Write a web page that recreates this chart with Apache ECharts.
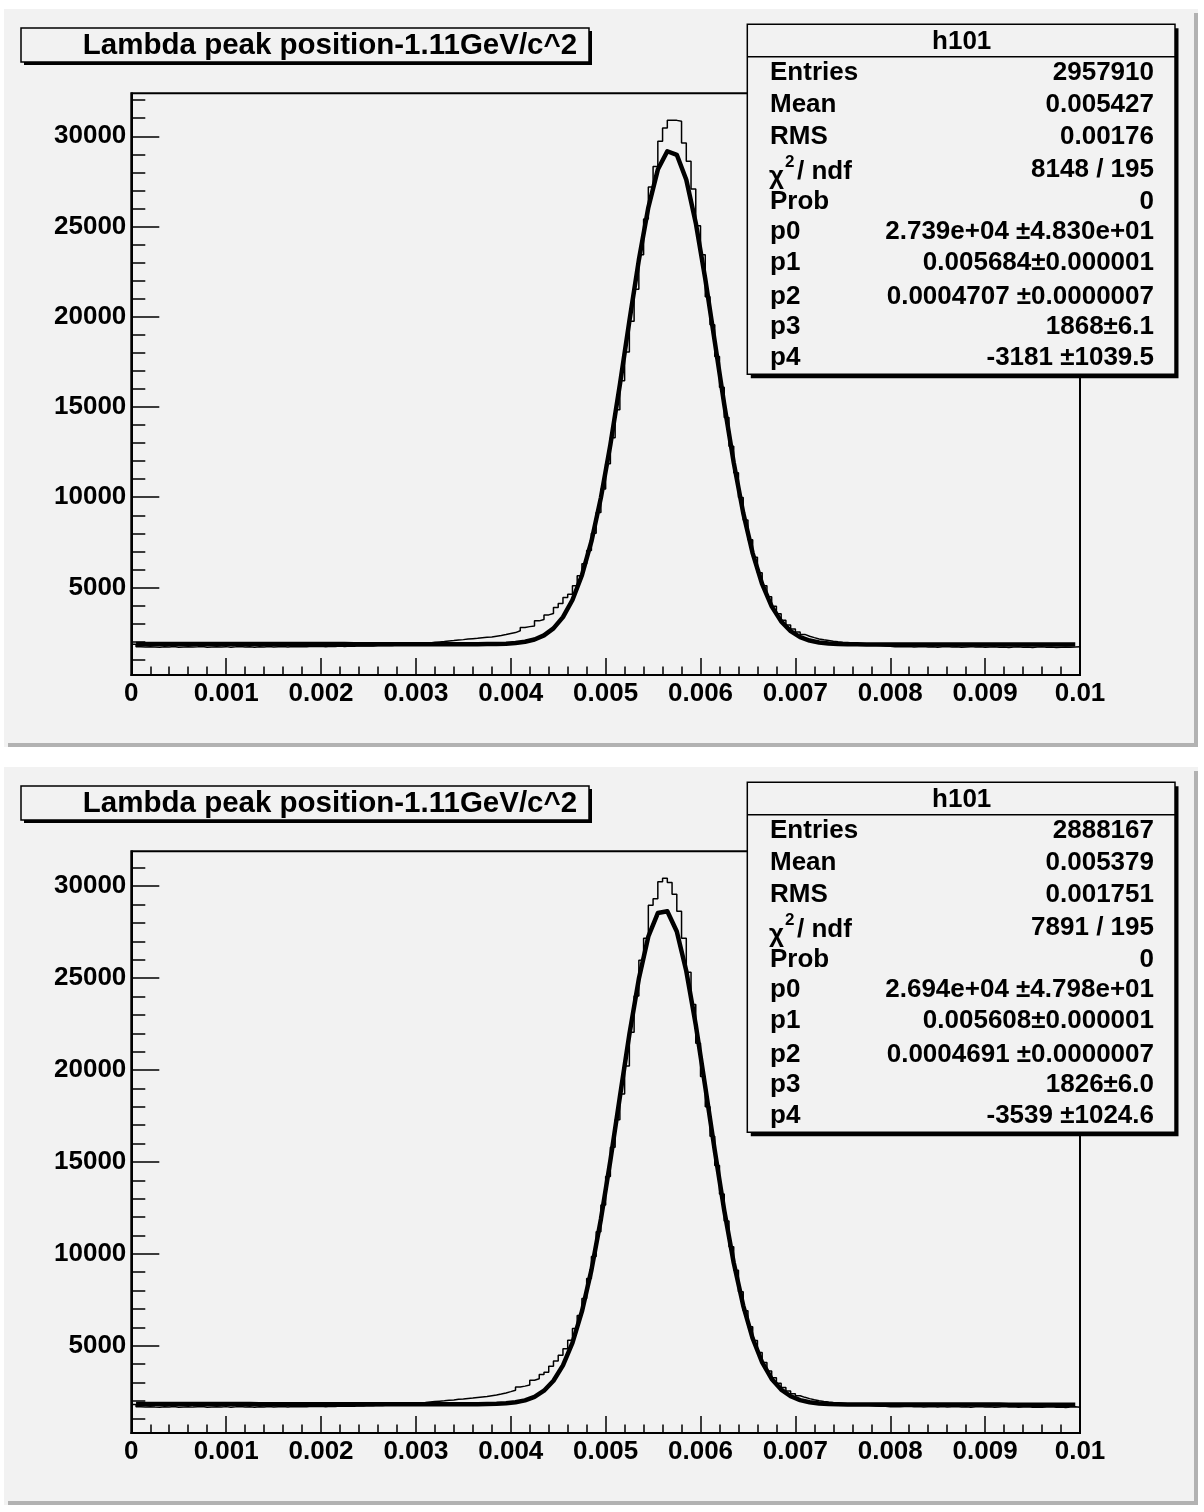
<!DOCTYPE html>
<html>
<head>
<meta charset="utf-8">
<title>Lambda peak position</title>
<script src="https://cdn.jsdelivr.net/npm/echarts@6/dist/echarts.min.js"></script>
<style>
  html, body { margin: 0; padding: 0; background: #ffffff; }
  #chart-container { width: 1204px; height: 1512px; }
</style>
</head>
<body>
<div id="chart-container"></div>
<script>
// histogram: 200 bins on [0, 0.01], fit drawn as 100 points at 0.0001 spacing
const BIN_WIDTH = 0.00005;
const FIT_STEP = 0.0001;
const X_MIN = 0;
const X_MAX = 0.01;
const X_TICK_STEP = 0.001;

const yMajorTicks = [5000, 10000, 15000, 20000, 25000, 30000];
const yMinorTicks = [1000, 2000, 3000, 4000, 6000, 7000, 8000, 9000, 11000, 12000, 13000, 14000,
  16000, 17000, 18000, 19000, 21000, 22000, 23000, 24000, 26000, 27000, 28000, 29000, 31000, 32000];

const titleText = "Lambda peak position-1.11GeV/c^2";
const statsName = "h101";
const statsLabels = ["Entries", "Mean", "RMS", "chi2", "Prob", "p0", "p1", "p2", "p3", "p4"];
const topStatsValues = ["2957910", "0.005427", "0.00176", "8148 / 195", "0",
  "2.739e+04 \u00b14.830e+01", "0.005684\u00b10.000001", "0.0004707 \u00b10.0000007", "1868\u00b16.1", "-3181 \u00b11039.5"];
const bottomStatsValues = ["2888167", "0.005379", "0.001751", "7891 / 195", "0",
  "2.694e+04 \u00b14.798e+01", "0.005608\u00b10.000001", "0.0004691 \u00b10.0000007", "1826\u00b16.0", "-3539 \u00b11024.6"];

const topHist = [
  1850, 1712, 1698, 1721, 1705, 1689, 1716, 1701, 1724, 1692, 1708, 1719, 1695, 1710, 1726, 1688, 1703, 1717, 1699, 1722,
  1694, 1709, 1728, 1697, 1713, 1690, 1718, 1705, 1731, 1700, 1714, 1723, 1707, 1735, 1712, 1729, 1720, 1742, 1724, 1738,
  1716, 1745, 1730, 1751, 1734, 1759, 1741, 1765, 1752, 1775, 1763, 1786, 1778, 1797, 1790, 1812, 1810, 1830, 1838, 1858,
  1880, 1905, 1930, 1960, 1985, 2010, 2040, 2060, 2090, 2110, 2140, 2160, 2180, 2210, 2240, 2260, 2300, 2340, 2390, 2450,
  2500, 2600, 2780, 2830, 2870, 3150, 3230, 3480, 3560, 3890, 4110, 4450, 4620, 5090, 5650, 6310,
  7050, 8000, 9150, 10450, 11850, 13300, 14850, 16450, 18050, 19750, 21520, 23430, 25410, 27190, 28330, 29720, 30460,
  30890, 30880, 30830, 29630, 28610, 27080, 25040, 23430, 21110,
  19550, 17800, 16100, 14420, 12830, 11350, 9980, 8740, 7640, 6680, 5820, 5100, 4480, 3960, 3540, 3190, 2920, 2700,
  2530, 2400, 2300, 2220, 2150, 2100, 2060, 2020, 1990, 1965, 1945, 1920, 1895, 1870, 1850, 1830,
  1800, 1780, 1762, 1745, 1721, 1728, 1712, 1724, 1701, 1716, 1730, 1705, 1719, 1694, 1711, 1726, 1699, 1714, 1688, 1707,
  1722, 1696, 1710, 1683, 1703, 1719, 1692, 1706, 1680, 1698, 1715, 1689, 1704, 1677, 1695, 1711, 1686, 1701, 1674, 1693,
  1708, 1684, 1697, 1713
];

const topFit = [
  1868, 1867, 1867, 1867, 1867, 1866, 1866, 1866, 1865, 1865, 1865, 1864, 1864, 1864, 1863, 1863, 1863, 1862, 1862, 1862,
  1861, 1861, 1861, 1860, 1860, 1860, 1860, 1859, 1859, 1859, 1858, 1858, 1858, 1857, 1857,
  1858, 1859, 1862, 1870, 1886, 1921, 1990, 2119, 2348, 2735, 3357, 4306, 5679, 7550, 9979, 12909, 16235, 19759, 23144,
  26056, 28153, 29169, 28972, 27587, 25196, 22093, 18627, 15140, 11914, 9133, 6889, 5180, 3952, 3120, 2582, 2251, 2059,
  1953, 1897, 1868, 1855, 1848, 1845,
  1843, 1843, 1842, 1842, 1842, 1841, 1841, 1841, 1840, 1840, 1840, 1839, 1839, 1839, 1839, 1838, 1838, 1838, 1837, 1837,
  1837, 1836
];

const bottomHist = [
  1800, 1673, 1660, 1684, 1667, 1653, 1679, 1664, 1686, 1656, 1671, 1682, 1658, 1674, 1689, 1651, 1666, 1680, 1662, 1685,
  1657, 1672, 1691, 1660, 1676, 1654, 1682, 1668, 1694, 1663, 1678, 1687, 1670, 1698, 1675, 1692, 1683, 1705, 1687, 1701,
  1679, 1708, 1695, 1716, 1701, 1725, 1711, 1734, 1722, 1745, 1733, 1757, 1748, 1770, 1764, 1785,
  1810, 1830, 1850, 1870, 1890, 1910, 1935, 1960, 1980, 2000, 2030, 2050, 2080, 2100, 2130, 2150, 2180, 2210, 2240, 2280,
  2320, 2370, 2430, 2500, 2580, 2750, 2800, 2860, 3120, 3200, 3430, 3560, 3880, 4170, 4480, 4840, 5300, 5930, 6640, 7570,
  8650, 9850, 11200, 12650, 14200, 15800, 17300, 18700,
  20220, 22060, 24030, 25970, 27170, 28970, 29320, 30240, 30440, 30200, 29560, 28640, 27170, 25320, 23570, 21450,
  19650, 18000, 16400, 14800, 13250, 11780, 10380, 9100, 7930, 6900, 6030, 5280, 4630, 4080, 3630, 3260, 2960, 2720,
  2530, 2390, 2280, 2190, 2120, 2060, 2010, 1970, 1935, 1905, 1880, 1860, 1840, 1820, 1800, 1785, 1770,
  1745, 1722, 1700, 1705, 1684, 1696, 1673, 1688, 1700, 1677, 1692, 1666, 1683, 1697, 1670, 1686, 1661, 1679, 1694, 1667,
  1682, 1656, 1675, 1690, 1663, 1678, 1652, 1671, 1687, 1659, 1674, 1649, 1668, 1683, 1655, 1670, 1646, 1664, 1680, 1652,
  1667, 1643, 1661, 1677, 1654
];

const bottomFit = [
  1826, 1825, 1825, 1825, 1824, 1824, 1824, 1823, 1823, 1823, 1822, 1822, 1822, 1821, 1821, 1821, 1820, 1820, 1819, 1819,
  1819, 1818, 1818, 1818, 1817, 1817, 1817, 1816, 1816, 1816, 1815, 1815, 1815, 1814,
  1815, 1815, 1818, 1824, 1836, 1864, 1921, 2026, 2219, 2550, 3090, 3928, 5158, 6866, 9112, 11881, 15087, 18535, 21942,
  24965, 27263, 28541, 28638, 27539, 25388, 22457, 19087, 15624, 12364, 9513, 7183, 5391, 4087, 3192, 2612, 2251, 2040,
  1923, 1859, 1827, 1812, 1804, 1801,
  1799, 1798, 1798, 1797, 1797, 1797, 1796, 1796, 1796, 1795, 1795, 1795, 1794, 1794, 1794, 1793, 1793, 1793, 1792, 1792,
  1792, 1791, 1791
];

const panels = [
  { dy: 0, hist: topHist, fit: topFit, stats: topStatsValues, yMin: 150, yMax: 32380 },
  { dy: 758, hist: bottomHist, fit: bottomFit, stats: bottomStatsValues, yMin: 250, yMax: 31900 },
];

// layout (pixels, top panel; bottom panel is shifted by dy)
const FRAME = { left: 131.3, top: 93.3, width: 948.7, height: 581.7 };
const PAD = { x: 4, y: 9, width: 1194, height: 738 };
const FONT = '"Liberation Sans", Arial, Helvetica, sans-serif';
const PAD_COLOR = "#f2f2f2";
const statsRowY = [73.3, 105, 136.7, 169.5, 201.7, 231.7, 263.3, 296.7, 326.7, 358.3];

function histPoints(values) {
  const pts = values.map((v, i) => [X_MIN + i * BIN_WIDTH, v]);
  pts.push([X_MIN + values.length * BIN_WIDTH, values[values.length - 1]]);
  return pts;
}

function fitPoints(values) {
  return values.map((v, k) => [X_MIN + (k + 0.5) * FIT_STEP, v]);
}

function text(x, y, str, size, align, vAlign, weight) {
  return {
    type: "text", x: x, y: y, z: 110,
    style: {
      text: str, fill: "#000",
      font: (weight || "bold") + " " + size + "px " + FONT,
      textAlign: align || "left", textVerticalAlign: vAlign || "middle",
    },
  };
}

function rect(x, y, w, h, fill, stroke, z) {
  return {
    type: "rect", z: z, silent: true,
    shape: { x: x, y: y, width: w, height: h },
    style: { fill: fill, stroke: stroke || null, lineWidth: stroke ? 1.5 : 0 },
  };
}

function padGraphics(p) {
  const dy = p.dy;
  const g = [];
  // pad background with bevelled border
  g.push(rect(PAD.x, PAD.y + dy, PAD.width, PAD.height, PAD_COLOR, null, -10));
  g.push(rect(PAD.x + PAD.width - 4, PAD.y + dy + 4, 4, PAD.height - 4, "#b2b2b2", null, -9));
  g.push(rect(PAD.x + 4, PAD.y + dy + PAD.height - 4, PAD.width - 4, 4, "#b2b2b2", null, -9));

  // title box
  g.push(rect(24, 31 + dy, 568, 34, "#000", null, 100));
  g.push(rect(21, 28 + dy, 568, 34, PAD_COLOR, "#000", 101));
  g.push(text(330, 45.5 + dy, titleText, 29.5, "center"));

  // stats box
  const bx = 747.3, by = 24.3 + dy, bw = 427.7, bh = 350;
  g.push(rect(bx + 3.5, by + 4, bw, bh, "#000", null, 100));
  g.push(rect(bx, by, bw, bh, PAD_COLOR, "#000", 101));
  g.push({
    type: "line", z: 102, silent: true,
    shape: { x1: bx, y1: 56.7 + dy, x2: bx + bw, y2: 56.7 + dy },
    style: { stroke: "#000", lineWidth: 1.5 },
  });
  g.push(text(961.7, 41.5 + dy, statsName, 26, "center"));

  statsLabels.forEach((label, i) => {
    const y = statsRowY[i] + dy;
    if (label === "chi2") {
      g.push(text(769, y + 7, "\u03c7", 26, "left"));
      g.push(text(785, y - 7, "2", 17, "left"));
      g.push(text(797, y + 2, "/ ndf", 26, "left"));
    } else {
      g.push(text(770, y, label, 26, "left"));
    }
    g.push(text(1154, y, p.stats[i], 26, "right"));
  });
  return g;
}

const chartDom = document.getElementById("chart-container");
const chart = echarts.init(chartDom, null, { renderer: "canvas" });

const grids = [], xAxes = [], yAxes = [], series = [];
let graphics = [];

panels.forEach((p, idx) => {
  grids.push({
    left: FRAME.left, top: FRAME.top + p.dy, width: FRAME.width, height: FRAME.height,
    show: true, borderColor: "#000", borderWidth: 2, backgroundColor: "transparent",
  });

  xAxes.push({
    gridIndex: idx, type: "value", min: X_MIN, max: X_MAX, interval: X_TICK_STEP,
    axisLine: { show: true, onZero: false, lineStyle: { color: "#000", width: 2 } },
    axisTick: { show: true, inside: true, length: 17, lineStyle: { color: "#000", width: 1.5 } },
    minorTick: { show: true, splitNumber: 5, length: 8.5, lineStyle: { color: "#000", width: 1.5 } },
    splitLine: { show: false },
    axisLabel: {
      show: true, margin: 6, color: "#000", fontSize: 26, fontWeight: "bold", fontFamily: FONT,
      showMinLabel: true, showMaxLabel: true,
      formatter: (v) => String(+v.toFixed(4)),
    },
  });

  // major ticks + labels
  yAxes.push({
    gridIndex: idx, type: "value", min: p.yMin, max: p.yMax, position: "left",
    axisLine: { show: true, onZero: false, lineStyle: { color: "#000", width: 2 } },
    axisTick: { show: true, inside: true, length: 28, customValues: yMajorTicks, lineStyle: { color: "#000", width: 1.5 } },
    splitLine: { show: false },
    axisLabel: {
      show: true, margin: 5, color: "#000", fontSize: 26, fontWeight: "bold", fontFamily: FONT,
      customValues: yMajorTicks,
      formatter: (v) => String(v),
    },
  });
  // minor ticks
  yAxes.push({
    gridIndex: idx, type: "value", min: p.yMin, max: p.yMax, position: "left",
    axisLine: { show: false },
    axisTick: { show: true, inside: true, length: 14, customValues: yMinorTicks, lineStyle: { color: "#000", width: 1.5 } },
    splitLine: { show: false },
    axisLabel: { show: false },
  });

  series.push({
    name: "h101-" + idx, type: "line", xAxisIndex: idx, yAxisIndex: idx * 2,
    data: histPoints(p.hist), step: "end", showSymbol: false, symbol: "none",
    lineStyle: { color: "#000", width: 1.5 }, z: 3, animation: false,
  });
  series.push({
    name: "fit-" + idx, type: "line", xAxisIndex: idx, yAxisIndex: idx * 2,
    data: fitPoints(p.fit), showSymbol: false, symbol: "none", smooth: false,
    lineStyle: { color: "#000", width: 4.5, join: "round" }, z: 4, animation: false,
  });

  graphics = graphics.concat(padGraphics(p));
});

chart.setOption({
  animation: false,
  backgroundColor: "#ffffff",
  grid: grids,
  xAxis: xAxes,
  yAxis: yAxes,
  series: series,
  graphic: { elements: graphics },
});
</script>
</body>
</html>
